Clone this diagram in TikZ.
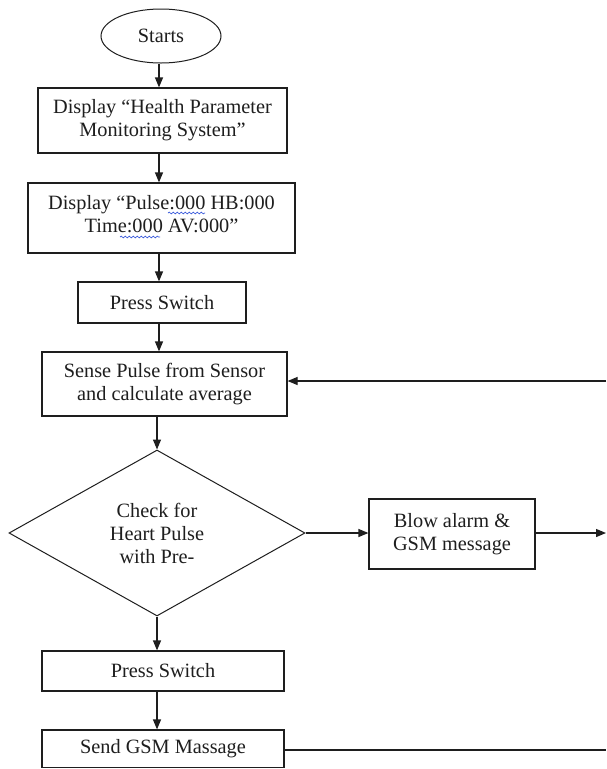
\documentclass[tikz,border=0pt]{standalone}
\usepackage{fontspec}
\setmainfont{Liberation Serif}
\usetikzlibrary{shapes.geometric,arrows.meta,decorations.pathmorphing}
\definecolor{ink}{HTML}{1E1E1E}
\definecolor{spell}{HTML}{3B5BDB}
\begin{document}
\begin{tikzpicture}[x=1pt,y=-1pt,
  every node/.style={font=\fontsize{20.3}{23}\selectfont, align=center, inner sep=0pt, text=ink},
  box/.style={draw=ink, line width=1.2pt, rectangle},
  conn/.style={draw=ink, line width=1.2pt, -{Triangle[length=10pt,width=8pt]}},
  plain/.style={draw=ink, line width=1.2pt},
  squig/.style={draw=spell, line width=0.7pt, decorate, decoration={snake, amplitude=0.9pt, segment length=4pt}}]
\useasboundingbox (0,0) rectangle (606,769);
\fill[white] (0,0) rectangle (606,769);

\node[draw=ink, ellipse, line width=1pt, minimum width=120pt, minimum height=54pt] (start) at (161,36) {Starts};
\node[box, minimum width=249pt, minimum height=65pt] (b1) at (162.5,120.5) {Display “Health Parameter\\Monitoring System”};
\node[box, minimum width=267pt, minimum height=70pt] (b2) at (161.5,218) {};
\node[align=center] (b2t) at (161.5,214) {Display “Pulse:000 HB:000\\Time:000 AV:000”};
\node[box, minimum width=168pt, minimum height=41pt] (b3) at (162,302.5) {Press Switch};
\node[box, minimum width=245pt, minimum height=64pt] (b4) at (164.5,384) {Sense Pulse from Sensor\\and calculate average};
\node[draw=ink, diamond, line width=1pt, minimum width=296pt, minimum height=166pt, aspect=1.78] (dec) at (157,533) {Check for\\Heart Pulse\\with Pre-};
\node[box, minimum width=166pt, minimum height=70pt] (alarm) at (452,534) {Blow alarm \&\\GSM message};
\node[box, minimum width=242pt, minimum height=40pt] (p2) at (163,671) {Press Switch};
\node[box, minimum width=242pt, minimum height=37.5pt] (send) at (163,748.75) {Send GSM Massage};

\coordinate (ax) at (159,0);
\coordinate (r1) at (606,381);
\coordinate (r2) at (606,533);
\coordinate (r3) at (606,750);

\draw[conn] (start.south -| ax) -- (b1.north -| ax);
\draw[conn] (b1.south -| ax) -- (b2.north -| ax);
\draw[conn] (b2.south -| ax) -- (b3.north -| ax);
\draw[conn] (b3.south -| ax) -- (b4.north -| ax);
\draw[conn] (b4.south -| dec.north) -- (dec.north);
\draw[conn] (dec.south) -- (p2.north -| dec.south);
\draw[conn] (p2.south -| dec.south) -- (send.north -| dec.south);
\draw[conn] (dec.east) -- (alarm.west |- dec.east);
\draw[conn] (alarm.east |- r2) -- (r2);
\draw[conn] (r1) -- (b4.east |- r1);
\draw[plain] (send.east |- r3) -- (r3);

\draw[squig] (168,213) -- (205,213);
\draw[squig] (120,237) -- (160,237);
\end{tikzpicture}
\end{document}
